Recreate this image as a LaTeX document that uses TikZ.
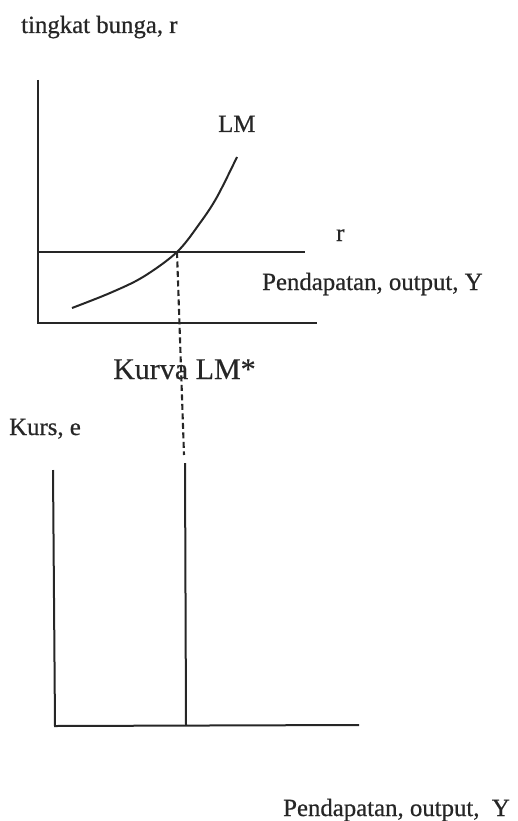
\documentclass[tikz,border=0pt]{standalone}
\usepackage{fontspec}
\setmainfont{Liberation Serif}
\newfontfamily\scanfont{Liberation Serif}[FakeBold=0.6]
\newfontfamily\scanfontb{Liberation Serif}[FakeBold=0.3]
\begin{document}
\begin{tikzpicture}[x=1pt,y=-1pt,
  axis/.style={line width=2pt, color=black!85},
  curve/.style={line width=2pt, color=black!85},
  guide/.style={line width=2.1pt, color=black!85, dash pattern=on 6pt off 3.5pt},
  lbl/.style={inner sep=0pt, anchor=base west, text=black!85, font=\scanfont\fontsize{24.8}{28}\selectfont},
  biglbl/.style={inner sep=0pt, anchor=base west, text=black!85, font=\scanfontb\fontsize{30}{34}\selectfont}]
\useasboundingbox (0,0) rectangle (517,821);
% top panel coordinates
\coordinate (ty) at (38,80);
\coordinate (to) at (38,323);
\coordinate (tx) at (317,323);
\coordinate (rl) at (38,252);
\coordinate (rr) at (305,252);
\coordinate (E) at (177,252);
% bottom panel coordinates
\coordinate (by) at (53,470);
\coordinate (bo) at (55,726);
\coordinate (bx) at (359,725);
\coordinate (dEnd) at (184,455);
\coordinate (sTop) at (185,463);
\coordinate (sBot) at (186,725);
% axes
\draw[axis] (ty) -- (to) -- (tx);
\draw[axis] (rl) -- (rr);
\draw[axis] (by) -- (bo) -- (bx);
% LM curve
\draw[curve] plot[smooth, tension=0.55] coordinates {(72,308) (110,293) (143,277) (E) (200,223) (217,197) (237,157)};
% dashed guide and LM* vertical
\draw[guide] (E) -- (dEnd);
\draw[axis] (sTop) -- (sBot);
% labels
\node[lbl] (ylab1) at (21,33) {tingkat bunga, r};
\node[lbl] (lm) at (218,132) {LM};
\node[lbl] (rlab) at (336,241) {r};
\node[lbl] (xlab1) at (262,290) {Pendapatan, output, Y};
\node[biglbl] (lmstar) at (113,379) {Kurva LM*};
\node[lbl] (ylab2) at (9,435) {Kurs, e};
\node[lbl] (xlab2) at (283,816) {Pendapatan, output,\ \ Y};
\end{tikzpicture}
\end{document}
